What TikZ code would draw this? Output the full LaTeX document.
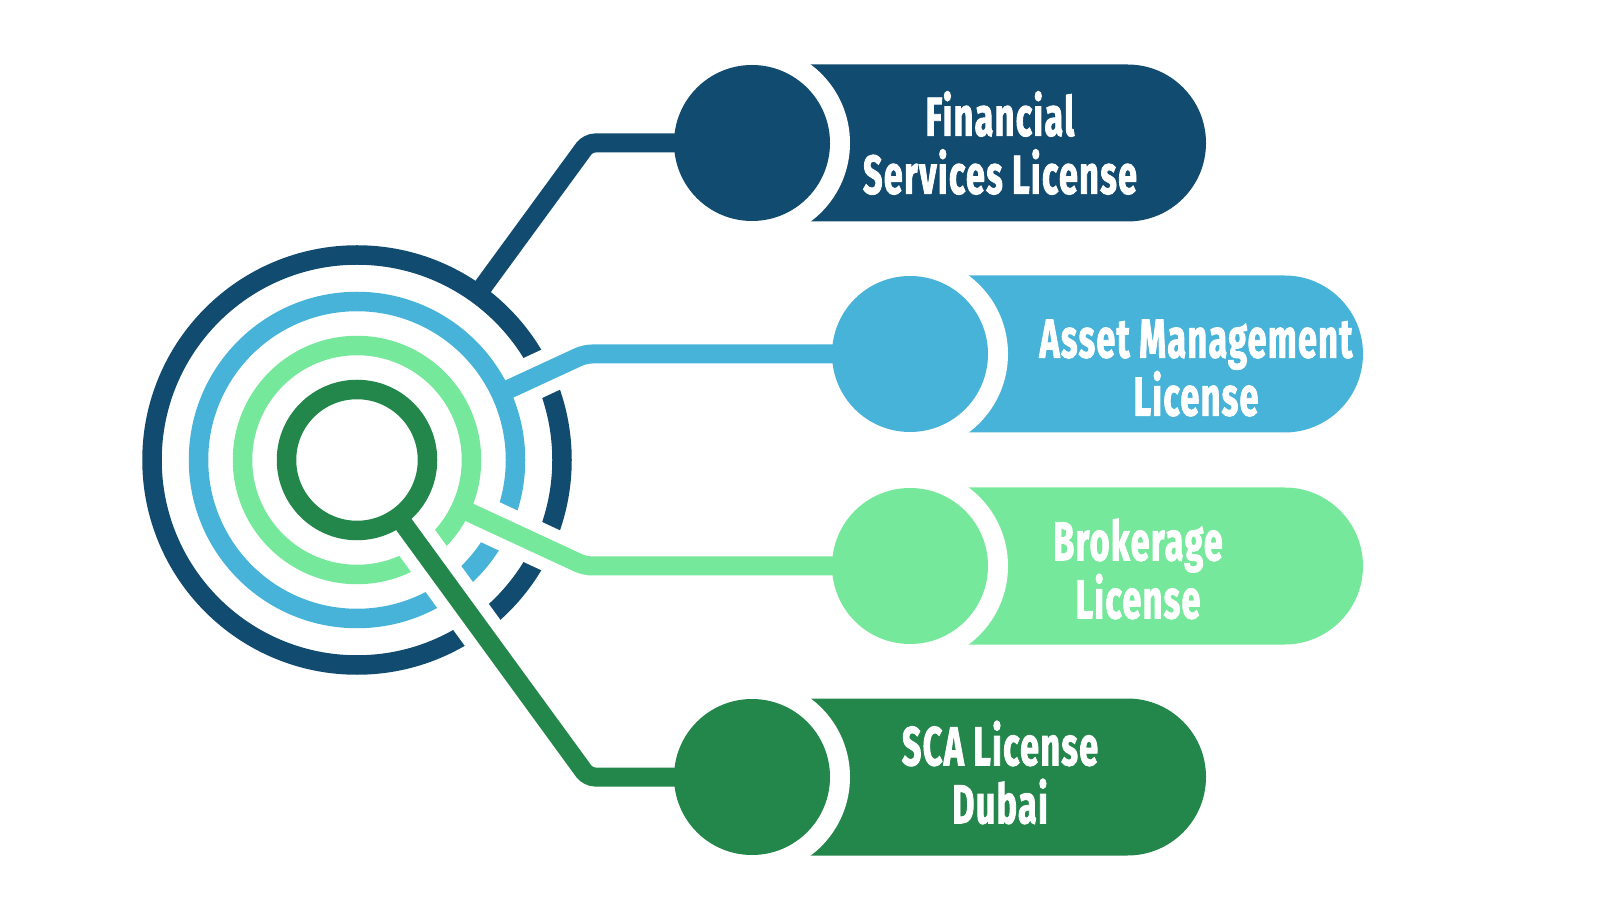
\documentclass[tikz,border=0pt]{standalone}
\usepackage{fontspec}
\newfontfamily\labelfont{Fira Sans}[FakeStretch=0.62, FakeBold=1.5, LetterSpace=2.5]
\usetikzlibrary{calc}
\definecolor{navy}{HTML}{114B6F}
\definecolor{sky}{HTML}{47B3D8}
\definecolor{mint}{HTML}{75E89B}
\definecolor{forest}{HTML}{23874C}
\begin{document}
\begin{tikzpicture}[x=1pt,y=1pt,
  ring/.style={line width=19.5pt},
  wire/.style={line width=19pt, rounded corners=7pt},
  casing/.style={white, line width=44pt},
  bubble/.style={circle, minimum size=156pt, inner sep=0pt, outer sep=0pt},
  halo/.style={circle, fill=white, minimum size=196pt, inner sep=0pt},
  pill/.style={rectangle, rounded corners=78.5pt, minimum height=157pt, inner sep=0pt},
  lbl/.style={text=white, align=center, inner sep=0pt, font=\labelfont\bfseries\fontsize{55}{58}\selectfont}]
\useasboundingbox (0,0) rectangle (1600,900);
% centre and box centres
\coordinate (c) at (357,440);
\coordinate (b1c) at (752,757);
\coordinate (b2c) at (910,546);
\coordinate (b3c) at (910,334);
\coordinate (b4c) at (752,123);
% pills
\node[pill, fill=navy, minimum width=506pt] (p1) at (953,757) {};
\node[pill, fill=sky, minimum width=505pt] (p2) at (1110.5,546) {};
\node[pill, fill=mint, minimum width=505pt] (p3) at (1110.5,334) {};
\node[pill, fill=forest, minimum width=506pt] (p4) at (953,123) {};
% white halos
\node[halo] (h1) at (b1c) {};
\node[halo] (h2) at (b2c) {};
\node[halo] (h3) at (b3c) {};
\node[halo] (h4) at (b4c) {};
% rings
\draw[ring, navy] (c) circle[radius=205];
\draw[ring, sky] (c) circle[radius=158.5];
\draw[ring, mint] (c) circle[radius=114.5];
\draw[ring, forest] (c) circle[radius=70.5];
% casings
\draw[casing] ($(c)+(25:175)$) -- ($(c)+(25:232)$);
\draw[casing] ($(c)+(-25:131)$) -- ($(c)+(-25:232)$);
\draw[casing] ($(c)+(-54:87)$) -- ($(c)+(-54:232)$);
% connectors
\coordinate (s1) at ($(c)+(54:205)$);
\coordinate (s2) at ($(c)+(25:158.5)$);
\coordinate (s3) at ($(c)+(-25:114.5)$);
\coordinate (s4) at ($(c)+(-54:70.5)$);
\coordinate (k1) at (588,757);
\coordinate (k2) at (585,546);
\coordinate (k3) at (585,334);
\coordinate (k4) at (588,123);
\draw[wire, navy] (s1) -- (k1) -- (b1c);
\draw[wire, sky] (s2) -- (k2) -- (b2c);
\draw[wire, mint] (s3) -- (k3) -- (b3c);
\draw[wire, forest] (s4) -- (k4) -- (b4c);
% bubbles
\node[bubble, fill=navy] (b1) at (b1c) {};
\node[bubble, fill=sky] (b2) at (b2c) {};
\node[bubble, fill=mint] (b3) at (b3c) {};
\node[bubble, fill=forest] (b4) at (b4c) {};
% labels
\node[lbl] (t1) at (1000,757) {Financial\\Services License};
\node[lbl] (t2) at (1196,532) {Asset Management\\License};
\node[lbl] (t3) at (1138,331) {Brokerage\\License};
\node[lbl] (t4) at (1000,127.5) {SCA License\\Dubai};
\end{tikzpicture}
\end{document}
